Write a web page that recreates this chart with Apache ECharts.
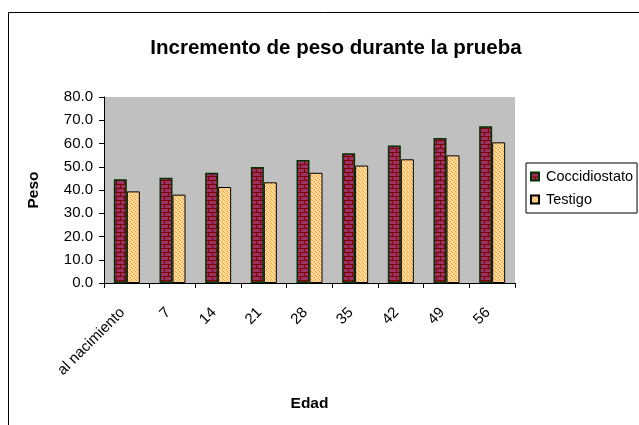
<!DOCTYPE html>
<html>
<head>
<meta charset="utf-8">
<script src="https://cdn.jsdelivr.net/npm/echarts@6/dist/echarts.min.js"></script>
<style>
  html, body { margin: 0; padding: 0; background: #fff; }
</style>
</head>
<body>
<div id="main" style="width: 639px;height: 425px"></div>
<script>
// datos
var edades = ['al nacimiento', '7', '14', '21', '28', '35', '42', '49', '56'];
var coccidiostato = [44.6, 45.3, 47.4, 49.9, 52.9, 55.8, 59.1, 62.4, 67.4];
var testigo = [39.4, 38.0, 41.3, 43.3, 47.4, 50.5, 53.2, 54.9, 60.5];
var yTicks = ['0.0', '10.0', '20.0', '30.0', '40.0', '50.0', '60.0', '70.0', '80.0'];

var font = 'Arial, "Liberation Sans", sans-serif';

// relleno tipo ladrillo
function brick() {
  var c = document.createElement('canvas');
  c.width = 8; c.height = 8;
  var g = c.getContext('2d');
  g.fillStyle = '#993366';
  g.fillRect(0, 0, 8, 8);
  g.fillStyle = '#800000';
  g.fillRect(0, 0, 8, 1);
  g.fillRect(0, 4, 8, 1);
  g.fillRect(0, 0, 1, 4);
  g.fillRect(4, 4, 1, 4);
  return c;
}

// relleno punteado
function dots() {
  var c = document.createElement('canvas');
  c.width = 4; c.height = 4;
  var g = c.getContext('2d');
  g.fillStyle = '#FFE0A8';
  g.fillRect(0, 0, 4, 4);
  g.fillStyle = '#FF9933';
  g.fillRect(0, 0, 1, 1);
  g.fillRect(2, 1, 1, 1);
  g.fillRect(1, 2, 1, 1);
  g.fillRect(3, 3, 1, 1);
  g.fillStyle = '#FFCC66';
  g.fillRect(2, 3, 1, 1);
  g.fillRect(3, 0, 1, 1);
  return c;
}

var chart = echarts.init(document.getElementById('main'));

var option = {
  animation: false,
  title: {
    text: 'Incremento de peso durante la prueba',
    left: 331,
    textAlign: 'center',
    top: 33,
    textStyle: { fontFamily: font, fontSize: 20.5, fontWeight: 'bold', color: '#000' }
  },
  legend: {
    orient: 'vertical',
    left: 526,
    top: 163,
    padding: [6, 4, 6, 4],
    itemGap: 8,
    itemWidth: 8,
    itemHeight: 8,
    borderColor: '#000',
    borderWidth: 1,
    icon: 'rect',
    textStyle: { fontFamily: font, fontSize: 14.5, color: '#000', padding: [0, 0, 0, 2] },
    data: ['Coccidiostato', 'Testigo']
  },
  graphic: [
    {
      type: 'rect',
      shape: { x: 8.5, y: 12.5, width: 700, height: 500 },
      style: { fill: 'none', stroke: '#000', lineWidth: 1 },
      silent: true
    }
  ],
  grid: {
    left: 104,
    right: 124,
    top: 97,
    bottom: 142,
    show: true,
    backgroundColor: '#C0C0C0',
    borderWidth: 0
  },
  xAxis: {
    type: 'category',
    data: edades,
    name: 'Edad',
    nameLocation: 'middle',
    nameGap: 113,
    nameTextStyle: { fontFamily: font, fontSize: 15.5, fontWeight: 'bold', color: '#000' },
    axisLine: { lineStyle: { color: '#000', width: 1 } },
    axisTick: { show: true, length: 5, lineStyle: { color: '#000' } },
    axisLabel: {
      rotate: 45,
      margin: 23,
      padding: [0, 6, 0, 0],
      fontFamily: font,
      fontSize: 15,
      color: '#000'
    }
  },
  yAxis: {
    type: 'value',
    min: 0,
    max: 80,
    interval: 10,
    name: 'Peso',
    nameLocation: 'middle',
    nameRotate: 90,
    nameGap: 62,
    nameTextStyle: { fontFamily: font, fontSize: 15.5, fontWeight: 'bold', color: '#000' },
    splitLine: { show: false },
    axisLine: { show: true, lineStyle: { color: '#000', width: 1 } },
    axisTick: { show: true, length: 5, lineStyle: { color: '#000' } },
    axisLabel: {
      margin: 11,
      fontFamily: font,
      fontSize: 15,
      color: '#000',
      formatter: function (v) { return yTicks[v / 10]; }
    }
  },
  series: [
    {
      name: 'Coccidiostato',
      type: 'bar',
      data: coccidiostato,
      barWidth: 13,
      barGap: '0%',
      itemStyle: {
        color: { image: brick(), repeat: 'repeat' },
        borderColor: '#003300',
        borderWidth: 1.5
      }
    },
    {
      name: 'Testigo',
      type: 'bar',
      data: testigo,
      barWidth: 13,
      barGap: '0%',
      itemStyle: {
        color: { image: dots(), repeat: 'repeat' },
        borderColor: '#000',
        borderWidth: 1
      }
    }
  ]
};

chart.setOption(option);
</script>
</body>
</html>
